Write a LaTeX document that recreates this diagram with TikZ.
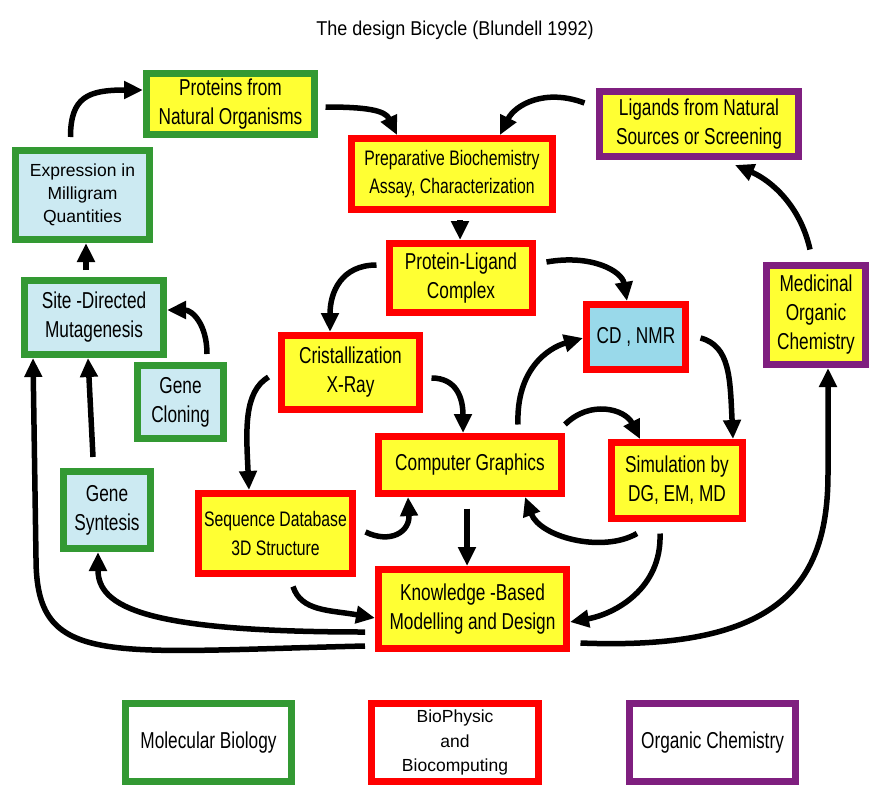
\documentclass[tikz,border=0pt]{standalone}
\usepackage{fontspec}
\setmainfont{Liberation Sans}
\newfontfamily\condfont{Liberation Sans}[FakeStretch=0.75]
\newfontfamily\titlefont{Liberation Sans}[FakeStretch=0.9]
\usetikzlibrary{arrows.meta}

\definecolor{molgreen}{HTML}{339933}
\definecolor{orgpurple}{HTML}{7F1F7F}
\definecolor{boxyellow}{HTML}{FFFF33}
\definecolor{paleblue}{HTML}{CCEAF2}
\definecolor{nmrblue}{HTML}{99D9EA}

\begin{document}
\begin{tikzpicture}[x=1pt,y=-1pt]
        \tikzstyle{box}=[
            draw, line width=7pt, fill=boxyellow, align=center, inner sep=2pt,
            font=\condfont\fontsize{23}{29}\selectfont
        ]
        \tikzstyle{mol box}=[box, draw=molgreen];
        \tikzstyle{phys box}=[box, draw=red];
        \tikzstyle{org box}=[box, draw=orgpurple];
        \tikzstyle{legend}=[box, fill=white, minimum height=78pt];
        \tikzstyle{flow}=[->, >={Triangle[length=19pt,width=17pt]}, line width=5.5pt]

        \useasboundingbox (0,0) rectangle (870,785);

        \node[font=\titlefont\fontsize{20}{24}\selectfont] (title) at (455,30)
            {The design Bicycle (Blundell 1992)};

        % Draw the molecular biology boxes
        \node[mol box, minimum width=168pt, minimum height=61pt]
            (pno) at (230.5,104) {Proteins from\\Natural Organisms};
        \node[mol box, fill=paleblue, font=\fontsize{17.5}{23}\selectfont,
            minimum width=134pt, minimum height=89pt]
            (emq) at (82.5,195) {Expression in\\Milligram\\Quantities};
        \node[mol box, fill=paleblue, minimum width=139pt, minimum height=74pt]
            (sdm) at (94,317.5) {Site -Directed\\Mutagenesis};
        \node[mol box, fill=paleblue, minimum width=86pt, minimum height=73pt]
            (gcl) at (180.5,402) {Gene\\Cloning};
        \node[mol box, fill=paleblue, minimum width=87pt, minimum height=77pt]
            (gsy) at (107,510) {Gene\\Syntesis};

        % Draw the biophysic boxes
        \node[phys box, font=\condfont\fontsize{21}{28}\selectfont,
            minimum width=201pt, minimum height=71pt]
            (pbc) at (452,174) {Preparative Biochemistry\\Assay, Characterization};
        \node[phys box, minimum width=143pt, minimum height=69pt]
            (plc) at (461,278) {Protein-Ligand\\Complex};
        \node[phys box, minimum width=138pt, minimum height=74pt]
            (cry) at (350.5,372.5) {Cristallization\\X-Ray};
        \node[phys box, fill=nmrblue, minimum width=99pt, minimum height=65pt]
            (cdn) at (636,337) {CD , NMR};
        \node[phys box, minimum width=183pt, minimum height=57pt]
            (cgr) at (470,465) {Computer Graphics};
        \node[phys box, minimum width=131pt, minimum height=76pt]
            (sim) at (677,480.5) {Simulation by\\DG, EM, MD};
        \node[phys box, font=\condfont\fontsize{21}{29}\selectfont,
            minimum width=154pt, minimum height=80pt]
            (seq) at (275.5,533.5) {Sequence Database\\3D Structure};
        \node[phys box, minimum width=188pt, minimum height=79pt]
            (kbd) at (472.5,609) {Knowledge -Based\\Modelling and Design};

        % Draw the organic chemistry boxes
        \node[org box, minimum width=199pt, minimum height=65pt]
            (lig) at (699,124) {Ligands from Natural\\Sources or Screening};
        \node[org box, minimum width=99pt, minimum height=99pt]
            (moc) at (816,315) {Medicinal\\Organic\\Chemistry};

        % Legend
        \node[legend, draw=molgreen, minimum width=166pt]
            (mb) at (208.5,742.5) {Molecular Biology};
        \node[legend, draw=red, minimum width=167pt,
            font=\fontsize{17.5}{24.5}\selectfont]
            (bp) at (455,742.5) {BioPhysic\\and\\Biocomputing};
        \node[legend, draw=orgpurple, minimum width=166pt]
            (oc) at (712.5,742.5) {Organic Chemistry};

        % Left loop through molecular biology
        \draw[flow] ([xshift=-12pt,yshift=10pt]emq.north)
            .. controls +(0,-40) and +(-55,0) .. ([yshift=14pt]pno.west);
        \draw[flow] ([xshift=-8pt,yshift=7pt]sdm.north) -- ([xshift=3.5pt]emq.south);
        \draw[flow] ([xshift=26.5pt,yshift=8pt]gcl.north)
            .. controls +(0,-30) and +(25,0) .. ([yshift=7.5pt]sdm.east);
        \draw[flow] ([xshift=-14pt,yshift=11pt]gsy.north) -- ([xshift=-6pt]sdm.south);
        \draw[flow] ([xshift=-10pt,yshift=-37pt]kbd.west)
            .. controls +(-260,6) and +(0,110) .. ([xshift=-58pt,yshift=-200pt]sdm.south)
            -- ([xshift=-61pt]sdm.south);
        \draw[flow] ([xshift=-10pt,yshift=-23pt]kbd.west)
            .. controls +(-220,0) and +(0,55) .. ([xshift=-9pt]gsy.south);

        % Top row into the preparative box
        \draw[flow] ([xshift=7.5pt,yshift=-3pt]pno.east)
            .. controls +(40,0) and +(-12,-25) .. ([xshift=-55pt]pbc.north);
        \draw[flow] ([xshift=-11.5pt,yshift=21pt]lig.west)
            .. controls +(-40,-15) and +(15,-30) .. ([xshift=48pt]pbc.north);
        \draw[flow] ([xshift=-6pt,yshift=12.5pt]moc.north)
            .. controls +(-10,-45) and +(35,15) .. ([xshift=36pt,yshift=-5pt]lig.south);
        \draw[flow] ([xshift=8pt,yshift=-7pt]pbc.south) -- ([xshift=-1pt]plc.north);

        % Centre of the cycle
        \draw[flow] ([xshift=-9.5pt,yshift=13pt]plc.west)
            .. controls +(-35,0) and +(0,-40) .. ([xshift=-20.5pt]cry.north);
        \draw[flow] ([xshift=10.5pt,yshift=16pt]plc.east)
            .. controls +(45,-8) and +(-5,-30) .. ([xshift=-9pt]cdn.north);
        \draw[flow] ([xshift=-9.5pt,yshift=-4.5pt]cry.west)
            .. controls +(-25,15) and +(-3,-60) .. ([xshift=-26.5pt]seq.north);
        \draw[flow] ([xshift=8.5pt,yshift=-5.5pt]cry.east)
            .. controls +(25,0) and +(0,-35) .. ([xshift=-7pt]cgr.north);
        \draw[flow] ([xshift=9.5pt,yshift=1.5pt]seq.east)
            .. controls +(25,12) and +(2,35) .. ([xshift=-62pt]cgr.south);
        \draw[flow] ([xshift=17.5pt,yshift=-9.5pt]seq.south)
            .. controls +(8,25) and +(-45,-8) .. ([yshift=-9pt]kbd.west);
        \draw[flow] ([xshift=48pt,yshift=8.5pt]cgr.north)
            .. controls +(-2,-55) and +(-35,10) .. ([yshift=-1pt]cdn.west);
        \draw[flow] ([xshift=11.5pt,yshift=-1pt]cdn.east)
            .. controls +(30,8) and +(-3,-60) .. ([xshift=56pt]sim.north);
        \draw[flow] ([yshift=8.5pt]cgr.north east)
            .. controls +(25,-25) and +(-15,-30) .. ([xshift=-37pt]sim.north);
        \draw[flow] ([xshift=-40pt,yshift=-11.5pt]sim.south)
            .. controls +(-35,20) and +(15,40) .. ([xshift=55pt]cgr.south);
        \draw[flow] ([xshift=-17pt,yshift=-11.5pt]sim.south)
            .. controls +(2,55) and +(45,-8) .. ([yshift=-13pt]kbd.east);
        \draw[flow] ([xshift=-3pt,yshift=-11.5pt]cgr.south) -- ([xshift=-5.5pt]kbd.north);

        % Back up to organic chemistry
        \draw[flow] ([xshift=10.5pt,yshift=-34pt]kbd.east)
            .. controls +(200,8) and +(0,110) .. ([xshift=12pt,yshift=-105.5pt]moc.south)
            -- ([xshift=12pt]moc.south);
\end{tikzpicture}
\end{document}
